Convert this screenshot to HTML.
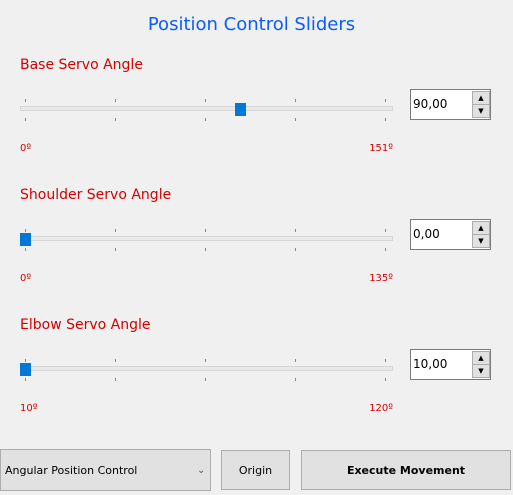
<!DOCTYPE html>
<html><head><meta charset="utf-8"><style>
body{margin:0;width:513px;height:495px;background:#f0f0f0;position:relative;overflow:hidden;font-family:"DejaVu Sans","Liberation Sans",sans-serif}
.abs{position:absolute}
.title{left:0;width:503px;top:14px;text-align:center;color:#0a5cff;font-size:18px;font-family:"DejaVu Sans",sans-serif}
.head{left:20px;color:#d40000;font-size:14px}
.lbl{color:#d40000;font-size:10px}
.track{left:20px;width:371px;height:3px;background:#e7eaea;border:1px solid #d6d6d6}
.tick{width:1px;height:3px;background:#888}
.thumb{width:11px;height:13px;background:#0078d7}
.spin{left:410px;width:79px;height:29px;border:1px solid #7a7a7a;background:#fff}
.spin span{position:absolute;left:2px;top:7px;font-size:12px;color:#000}
.sb{position:absolute;left:61px;width:16px;height:12px;background:#e1e1e1;border:1px solid #adadad;font-size:7px;text-align:center;line-height:12px}
.btn{background:#e1e1e1;border:1px solid #adadad;font-size:11px;color:#000;box-sizing:border-box;display:flex;align-items:center;justify-content:center}
</style></head><body>
<div class="abs title">Position Control Sliders</div>
<div id="root"></div>
<div class="abs btn" style="left:0;top:449px;width:211px;height:42px;justify-content:flex-start;padding-left:4px">Angular Position Control<span style="position:absolute;left:196px;font-size:10px;color:#555">&#8964;</span></div>
<div class="abs btn" style="left:221px;top:450px;width:69px;height:40px">Origin</div>
<div class="abs btn" style="left:301px;top:450px;width:210px;height:40px;font-weight:bold">Execute Movement</div>
<script>
const names=["Base Servo Angle","Shoulder Servo Angle","Elbow Servo Angle"];
const mins=[0,0,10];
const maxs=[151,135,120];
const values=[90,0,10];
const root=document.getElementById('root');
function add(cls,style,html){const d=document.createElement('div');d.className='abs '+cls;d.style.cssText=style;if(html!==undefined)d.innerHTML=html;root.appendChild(d);return d;}
names.forEach((n,i)=>{
 const o=i*130;
 let h=add('head','top:'+(57+o)+'px',n);
 
 
 let t=add('track','top:'+(106+o)+'px');
 
 
 for(let k=0;k<5;k++){
  const x=25+k*90;
  let a=add('tick','left:'+x+'px;top:'+(99+o)+'px');
  
  
  let b=add('tick','left:'+x+'px;top:'+(118+o)+'px');
  
  
 }
 const x=25+(values[i]-mins[i])/(maxs[i]-mins[i])*360;
 let th=add('thumb','left:'+(x-5)+'px;top:'+(103+o)+'px');
 
 
 let l1=add('lbl','left:20px;top:'+(143+o)+'px',mins[i]+'º');
 
 
 let l2=add('lbl','left:300px;width:93px;text-align:right;top:'+(143+o)+'px',maxs[i]+'º');
 
 
 let s=add('spin','top:'+(89+o)+'px','<span>'+values[i].toFixed(2).replace('.',',')+'</span><div class="sb" style="top:1px">&#9650;</div><div class="sb" style="top:14px">&#9660;</div>');
 
 
});
</script>
</body></html>
